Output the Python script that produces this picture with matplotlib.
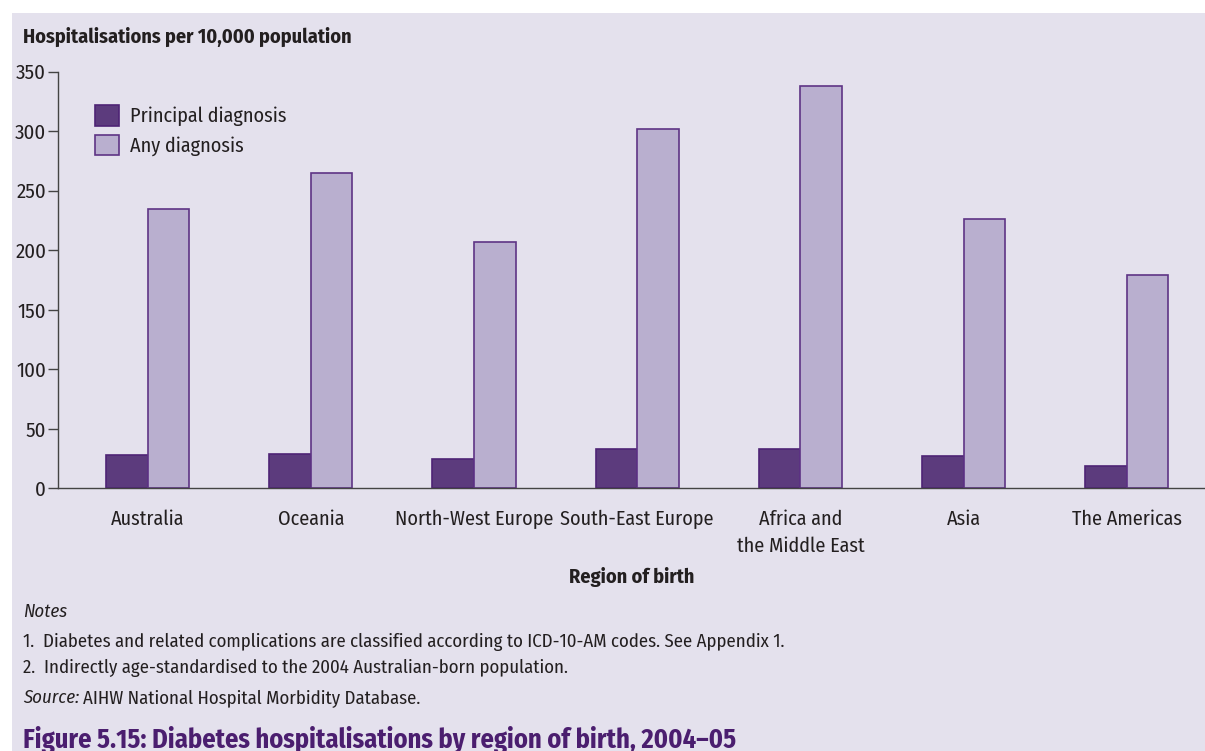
import matplotlib
matplotlib.use("Agg")
import matplotlib.pyplot as plt
from matplotlib.patches import Rectangle
from matplotlib import font_manager
import numpy as np

regions = ["Australia", "Oceania", "North-West Europe", "South-East Europe",
           "Africa and\nthe Middle East", "Asia", "The Americas"]
principal = [28, 29, 25, 33, 33, 27, 19]
any_diag = [235, 265, 207, 302, 338, 226, 179]
yticks = [0, 50, 100, 150, 200, 250, 300, 350]

names = {f.name for f in font_manager.fontManager.ttflist}
FONT = [n for n in ["Fira Sans Condensed", "Asap Condensed", "Barlow Semi Condensed",
                    "DejaVu Sans"] if n in names]
plt.rcParams['font.family'] = FONT

W, H = 1205, 751
fig = plt.figure(figsize=(W / 100, H / 100), dpi=100, facecolor="white")
BG = "#E4E1ED"
TXT = "#231F20"
fig.patches.append(Rectangle((12 / W, 0), 1 - 12 / W, 1 - 13 / H,
                             transform=fig.transFigure, facecolor=BG,
                             edgecolor="none", zorder=-10))

def fx(x):
    return x / W

def fy(y):
    return 1 - y / H

FS = 14.5
ax = fig.add_axes([fx(58), fy(488.3), 1 - fx(58), (488.3 - 71.7) / H])
ax.set_facecolor("none")
x = np.arange(len(regions))
bw = 0.255
c1, c2 = "#5C3B7D", "#B9AFCF"
ax.bar(x - bw / 2, principal, bw, color=c1, edgecolor="#4E2475", linewidth=1.2,
       label="Principal diagnosis")
ax.bar(x + bw / 2, any_diag, bw, color=c2, edgecolor="#5E3485", linewidth=1.2,
       label="Any diagnosis")
ax.set_xlim(-0.55, 6.48)
ax.set_ylim(0, 350)
ax.set_yticks(yticks)
ax.set_yticklabels([str(v) for v in yticks], fontsize=15, color=TXT)
ax.set_xticks(x)
ax.set_xticklabels(regions, fontsize=FS, color=TXT, linespacing=1.5, va="top")
ax.tick_params(axis="x", length=0, pad=15)
ax.tick_params(axis="y", length=7, width=1, color="#444444", pad=1.5, direction="out")
for s in ["top", "right"]:
    ax.spines[s].set_visible(False)
for s in ["left", "bottom"]:
    ax.spines[s].set_color("#444444")
    ax.spines[s].set_linewidth(1.0)

leg = ax.legend(loc="upper left",
                bbox_to_anchor=(fx(97) - fx(58), 1 - (105 - 71.7) / (488.3 - 71.7)),
                bbox_transform=ax.transAxes, frameon=False, fontsize=FS,
                handlelength=1.2, handleheight=1.2, handletextpad=0.55,
                labelspacing=0.42, borderaxespad=0, borderpad=0)
for t in leg.get_texts():
    t.set_color(TXT)

fig.text(fx(23), fy(37), "Hospitalisations per 10,000 population", fontsize=FS,
         fontweight="bold", color=TXT, va="center", ha="left")
fig.text(fx(632), fy(577), "Region of birth", fontsize=FS, fontweight="bold",
         color=TXT, va="center", ha="center")
NS = 13.5
fig.text(fx(23), fy(612), "Notes", fontsize=NS, style="italic", color=TXT,
         va="center")
fig.text(fx(23), fy(642),
         "1.  Diabetes and related complications are classified according to ICD-10-AM codes. See Appendix 1.",
         fontsize=NS, color=TXT, va="center")
fig.text(fx(23), fy(668),
         "2.  Indirectly age-standardised to the 2004 Australian-born population.",
         fontsize=NS, color=TXT, va="center")
src = fig.text(fx(23), fy(698), "Source:", fontsize=NS, style="italic", color=TXT,
               va="center")
fig.canvas.draw()
bb = src.get_window_extent()
fig.text(bb.x1 / W + 4 / W, fy(698), "AIHW National Hospital Morbidity Database.",
         fontsize=NS, color=TXT, va="center")
fig.text(fx(23), fy(748), "Figure 5.15: Diabetes hospitalisations by region of birth, 2004\u201305",
         fontsize=19, fontweight="bold", color="#4B1E6F", va="baseline")

fig.savefig("out.png", dpi=100, facecolor="white")
